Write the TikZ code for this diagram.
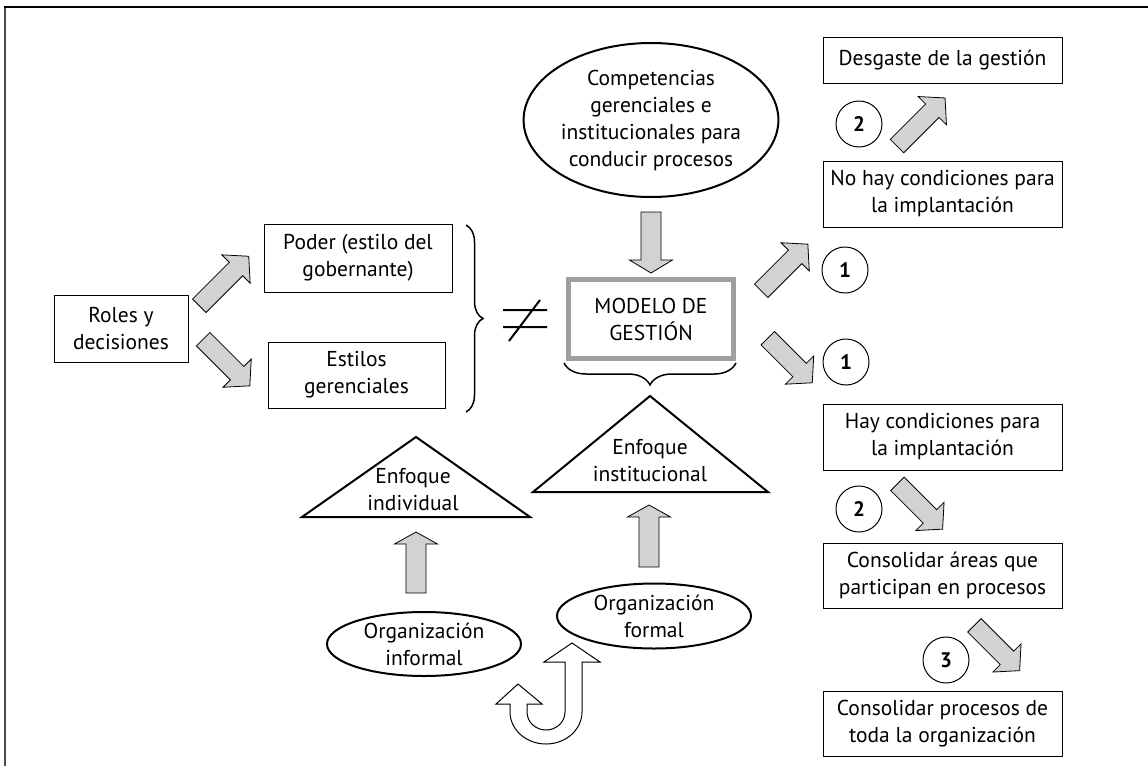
\documentclass[tikz,border=0pt]{standalone}
\usepackage{fontspec}
\setmainfont{PT Sans}
\usetikzlibrary{shapes.geometric,decorations.pathreplacing}
\tikzset{
  txt/.style={font=\fontsize{21.5}{27}\selectfont, align=center},
  box/.style={txt, draw=black, line width=1pt, inner sep=0pt},
  oval/.style={txt, ellipse, draw=black, line width=2pt, inner sep=0pt},
  num/.style={circle, draw=black, line width=1pt, minimum size=46, inner sep=0pt, font=\fontsize{21}{24}\selectfont\bfseries},
  garrow/.style={draw=black, fill=gray!35, line width=0.8pt, line join=miter},
  tri/.style={draw=black, line width=2pt, line join=miter},
  brc/.style={draw=black, line width=1.5pt, decorate},
}
% block arrow: centre x, centre y, angle, length, shaft width, head width, head length
\newcommand\blkarr[7]{%
  \begin{scope}[shift={(#1,#2)}, rotate=#3]
    \pgfmathsetmacro\arrL{#4/2}%
    \pgfmathsetmacro\arrS{#5/2}%
    \pgfmathsetmacro\arrH{#6/2}%
    \pgfmathsetmacro\arrK{#4/2-#7}%
    \draw[garrow] (-\arrL,-\arrS) -- (\arrK,-\arrS) -- (\arrK,-\arrH) -- (\arrL,0)
      -- (\arrK,\arrH) -- (\arrK,\arrS) -- (-\arrL,\arrS) -- cycle;
  \end{scope}}
\begin{document}
\begin{tikzpicture}[x=1pt,y=-1pt]
\useasboundingbox (0,0) rectangle (1148,766);
% frame
\draw[black!70, line width=2pt] (5,766) -- (5,7);
\draw[black, line width=2pt] (4,7) -- (1148,7);

% left boxes
\node[box, minimum width=134, minimum height=67] (roles) at (121,328.5) {Roles y\\decisiones};
\node[box, minimum width=188, minimum height=68] (poder) at (358,258) {Poder (estilo del\\gobernante)};
\node[box, minimum width=177, minimum height=66] (estilos) at (356.5,375) {Estilos\\gerenciales};
\blkarr{224}{281}{45}{70}{19}{40}{18}
\blkarr{226.5}{362.5}{-45}{66}{19}{40}{18}

% brace and not-equal
\coordinate (bt) at (466,225);
\coordinate (bb) at (466,412);
\draw[brc, decoration={brace, amplitude=17}] (bt) -- (bb);
\coordinate (n1) at (503,310);
\coordinate (n2) at (547,310);
\coordinate (n3) at (503,327);
\coordinate (n4) at (547,327);
\coordinate (n5) at (540,300);
\coordinate (n6) at (509,341);
\draw[line width=2pt] (n1) -- (n2) (n3) -- (n4) (n5) -- (n6);

% center
\node[oval, minimum width=244, minimum height=154] (comp) at (651,120)
  {Competencias\\gerenciales e\\institucionales para\\conducir procesos};
\blkarr{651}{242.5}{-90}{61}{20}{43}{13}
\node[txt, draw=gray!75, line width=5pt, minimum width=165, minimum height=79, inner sep=0pt] (modelo) at (651,319) {MODELO DE\\GESTIÓN};
\coordinate (mb1) at (736,363);
\coordinate (mb2) at (564,363);
\draw[brc, decoration={brace, amplitude=22}] (mb1) -- (mb2);

% triangles
\coordinate (ti1) at (650,396);
\coordinate (ti2) at (768,492);
\coordinate (ti3) at (533,492);
\draw[tri] (ti1) -- (ti2) -- (ti3) -- cycle;
\node[txt] (enfinst) at (650,461) {Enfoque\\institucional};
\coordinate (tv1) at (416,437);
\coordinate (tv2) at (530,517);
\coordinate (tv3) at (302,517);
\draw[tri] (tv1) -- (tv2) -- (tv3) -- cycle;
\node[txt] (enfind) at (413,490) {Enfoque\\individual};

\blkarr{416}{562.5}{90}{61}{20}{43}{12}
\blkarr{649}{536}{90}{62}{20}{43}{12}

% ellipses bottom
\node[oval, minimum width=194, minimum height=65] (formal) at (654,616) {Organización\\formal};
\node[oval, minimum width=194, minimum height=64] (informal) at (424,644) {Organización\\informal};

% U-turn arrow
\draw[black, line width=1pt, fill=white, line join=miter]
  (572,643) -- (600,662) -- (582,662) -- (582,712)
  .. controls (582,729.6) and (565.8,744) .. (546,744)
  .. controls (526.2,744) and (510,729.6) .. (510,712)
  -- (510,704) -- (496,704) -- (518,684) -- (542,704) -- (527,704) -- (527,712)
  .. controls (527,722) and (535.5,730) .. (546,730)
  .. controls (556.5,730) and (565,722) .. (565,712)
  -- (565,662) -- (544,662) -- cycle;

% right side
\blkarr{784.5}{267.5}{45}{66}{19}{40}{18}
\blkarr{790}{360.5}{-45}{63}{19}{40}{18}
\node[num] (c1a) at (845,270) {1};
\node[num] (c1b) at (846,362) {1};

\node[box, minimum width=239, minimum height=46] (desg) at (942.5,60) {Desgaste de la gestión};
\node[num] (c2a) at (859,124) {2};
\blkarr{921}{122}{45}{68}{19}{40}{18}
\node[box, minimum width=239, minimum height=66] (nohay) at (942.5,194) {No hay condiciones para\\la implantación};

\node[box, minimum width=239, minimum height=66] (hay) at (942.5,437) {Hay condiciones para\\la implantación};
\node[num] (c2b) at (859,509) {2};
\blkarr{920}{506.5}{-45}{64}{19}{40}{18}
\node[box, minimum width=239, minimum height=65] (areas) at (942.5,575.5) {Consolidar áreas que\\participan en procesos};
\node[num] (c3) at (946,660) {3};
\blkarr{997}{648}{-45}{64}{19}{40}{18}
\node[box, minimum width=239, minimum height=65] (procesos) at (942.5,723.5) {Consolidar procesos de\\toda la organización};
\end{tikzpicture}
\end{document}
